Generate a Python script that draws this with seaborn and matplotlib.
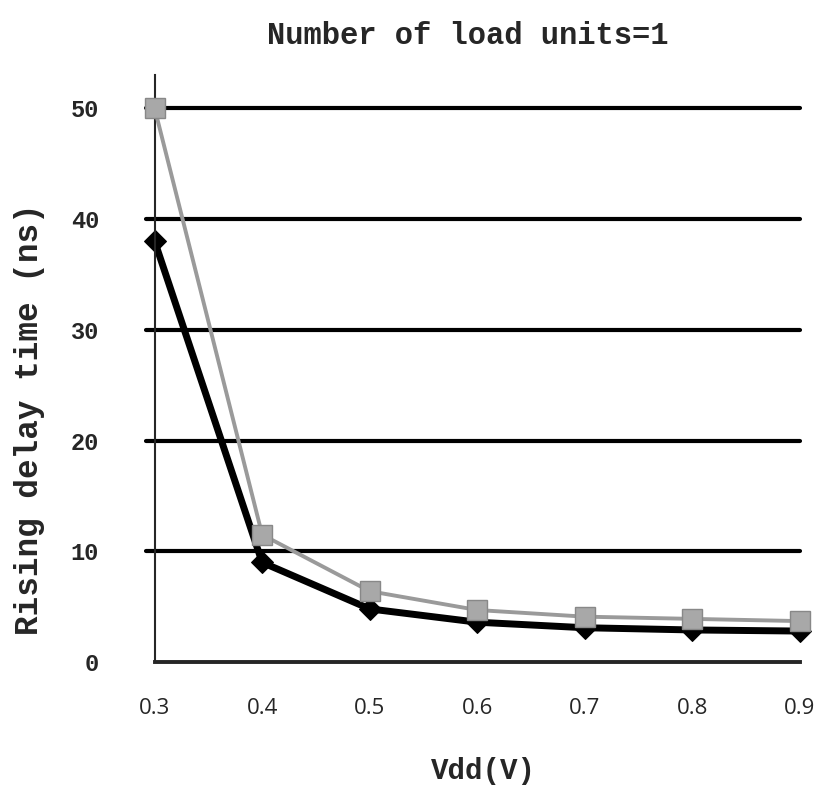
import matplotlib
matplotlib.use("Agg")
import matplotlib.pyplot as plt
import seaborn as sns
import pandas as pd

vdd = [0.3, 0.4, 0.5, 0.6, 0.7, 0.8, 0.9]
delay_black = [38.0, 9.0, 4.8, 3.6, 3.1, 2.9, 2.8]
delay_gray = [50.0, 11.5, 6.4, 4.7, 4.1, 3.9, 3.7]
yticks = [0, 10, 20, 30, 40, 50]

sns.set_style("white")
plt.rcParams['font.family'] = ['Liberation Mono', 'DejaVu Sans']

df = pd.DataFrame({"vdd": vdd, "black": delay_black, "gray": delay_gray})

fig = plt.figure(figsize=(8.27, 7.91), dpi=100)
ax = fig.add_axes([0.187, 0.163, 0.780, 0.742])

# heavy horizontal grid, starting a bit left of the y axis
for y in yticks[1:]:
    ax.axhline(y, color="black", lw=3, zorder=1, xmin=-0.014, clip_on=False)

sns.lineplot(data=df, x="vdd", y="gray", ax=ax, color="#9a9a9a", lw=2.8,
             marker="s", markersize=15, markerfacecolor="#a8a8a8",
             markeredgecolor="#888888", markeredgewidth=1, zorder=3, clip_on=False)
sns.lineplot(data=df, x="vdd", y="black", ax=ax, color="black", lw=5,
             marker="D", markersize=11, markerfacecolor="black",
             markeredgecolor="black", zorder=2, clip_on=False)

ax.set_xlim(0.3, 0.9)
ax.set_ylim(0, 53)
ax.set_yticks(yticks)
ax.set_xticks(vdd)
ax.set_xticklabels([f"{v:.1f}" for v in vdd], family="Open Sans", fontsize=16)
ax.set_yticklabels([str(t) for t in yticks], fontsize=17, fontweight="bold")

for side in ["top", "right"]:
    ax.spines[side].set_visible(False)
ax.spines["left"].set_linewidth(1.5)
ax.spines["bottom"].set_linewidth(2.8)
ax.tick_params(axis="x", direction="out", length=8, width=2, pad=18)
ax.tick_params(axis="y", direction="out", length=0, pad=40)

ax.set_xlabel("Vdd(V)", fontsize=21, fontweight="bold", va="center")
ax.xaxis.set_label_coords(0.51, -0.185)
ax.set_ylabel("Rising delay time (ns)", fontsize=23.5, fontweight="bold", va="center")
ax.yaxis.set_label_coords(-0.194, 0.414)
fig.text(0.566, 0.955, "Number of load units=1", fontsize=22, fontweight="bold",
         ha="center", va="center")

fig.savefig("out.png", dpi=100)
